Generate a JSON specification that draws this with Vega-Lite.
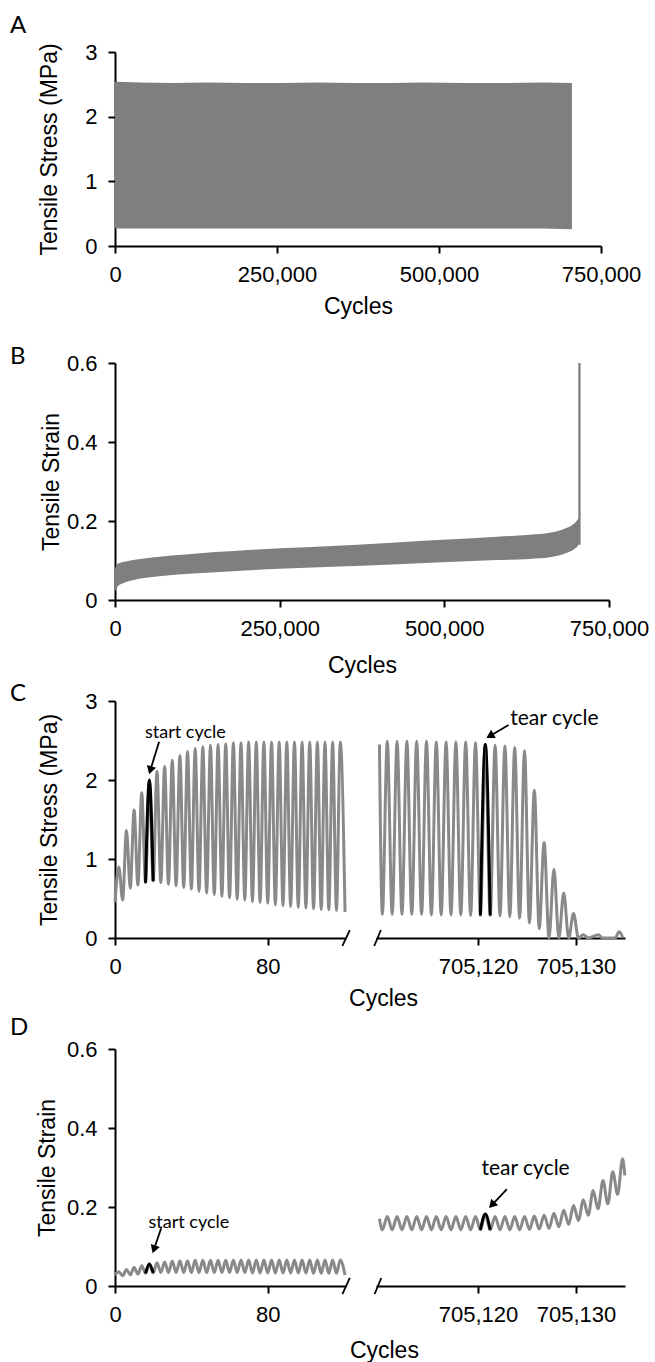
{
  "$schema": "https://vega.github.io/schema/vega-lite/v6.json",
  "background": "white",
  "padding": {"left": 10, "top": 14, "right": 5, "bottom": 0},
  "spacing": 5,
  "config": {
    "view": {"stroke": null},
    "font": "Liberation Sans",
    "axis": {
      "domainColor": "#000", "domainWidth": 2, "tickColor": "#000", "tickWidth": 2, "tickSize": 7,
      "labelFont": "Liberation Sans", "labelFontSize": 22, "labelColor": "#000", "labelPadding": 11,
      "titleFont": "Liberation Sans", "titleFontSize": 23, "titleFontWeight": "normal", "titleColor": "#000",
      "grid": false, "labelFlush": false, "labelOverlap": false
    },
    "title": {"font": "Lato", "fontSize": 24, "fontWeight": "normal", "color": "#000", "anchor": "start", "frame": "group"}
  },
  "datasets": {
    "a": [
      {"x": 0, "top": 2.54, "bot": 0.27}, {"x": 40000, "top": 2.53, "bot": 0.27}, {"x": 90000, "top": 2.52, "bot": 0.27},
      {"x": 140000, "top": 2.53, "bot": 0.27}, {"x": 200000, "top": 2.52, "bot": 0.27}, {"x": 260000, "top": 2.52, "bot": 0.27},
      {"x": 310000, "top": 2.53, "bot": 0.27}, {"x": 370000, "top": 2.52, "bot": 0.27}, {"x": 430000, "top": 2.52, "bot": 0.27},
      {"x": 470000, "top": 2.53, "bot": 0.27}, {"x": 540000, "top": 2.52, "bot": 0.27}, {"x": 600000, "top": 2.52, "bot": 0.27},
      {"x": 660000, "top": 2.53, "bot": 0.27}, {"x": 705135, "top": 2.52, "bot": 0.26}
    ],
    "b": [
      {"x": 0, "up": 0.080, "low": 0.021}, {"x": 4000, "up": 0.092, "low": 0.034}, {"x": 15000, "up": 0.097, "low": 0.044},
      {"x": 35000, "up": 0.103, "low": 0.053}, {"x": 60000, "up": 0.108, "low": 0.059}, {"x": 90000, "up": 0.113, "low": 0.064},
      {"x": 125000, "up": 0.118, "low": 0.068}, {"x": 180000, "up": 0.124, "low": 0.073}, {"x": 250000, "up": 0.131, "low": 0.079},
      {"x": 330000, "up": 0.137, "low": 0.084}, {"x": 420000, "up": 0.145, "low": 0.090}, {"x": 505000, "up": 0.153, "low": 0.096},
      {"x": 580000, "up": 0.160, "low": 0.101}, {"x": 630000, "up": 0.165, "low": 0.104}, {"x": 660000, "up": 0.170, "low": 0.108},
      {"x": 685000, "up": 0.182, "low": 0.119}, {"x": 698000, "up": 0.195, "low": 0.130}, {"x": 703000, "up": 0.205, "low": 0.138},
      {"x": 705100, "up": 0.212, "low": 0.145}
    ],
    "bs": [{"x": 705135, "y": 0.14, "y2": 0.6}],
    "cLg": [
      {"x": 0, "y": 0.45}, {"x": 2, "y": 0.9}, {"x": 4, "y": 0.48}, {"x": 6, "y": 1.36}, {"x": 8, "y": 0.63}, {"x": 10, "y": 1.62},
      {"x": 12, "y": 0.67}, {"x": 14, "y": 1.84}, {"x": 16, "y": 0.7}, {"x": 18, "y": 2.0}, {"x": 20, "y": 0.72}, {"x": 22, "y": 2.11},
      {"x": 24, "y": 0.7}, {"x": 26, "y": 2.17}, {"x": 28, "y": 0.68}, {"x": 30, "y": 2.25}, {"x": 32, "y": 0.66}, {"x": 34, "y": 2.31},
      {"x": 36, "y": 0.64}, {"x": 38, "y": 2.36}, {"x": 40, "y": 0.62}, {"x": 42, "y": 2.4}, {"x": 44, "y": 0.59}, {"x": 46, "y": 2.42},
      {"x": 48, "y": 0.57}, {"x": 50, "y": 2.44}, {"x": 52, "y": 0.55}, {"x": 54, "y": 2.45}, {"x": 56, "y": 0.53}, {"x": 58, "y": 2.46},
      {"x": 60, "y": 0.51}, {"x": 62, "y": 2.47}, {"x": 64, "y": 0.49}, {"x": 66, "y": 2.47}, {"x": 68, "y": 0.48}, {"x": 70, "y": 2.48},
      {"x": 72, "y": 0.46}, {"x": 74, "y": 2.48}, {"x": 76, "y": 0.45}, {"x": 78, "y": 2.48}, {"x": 80, "y": 0.44}, {"x": 82, "y": 2.48},
      {"x": 84, "y": 0.42}, {"x": 86, "y": 2.48}, {"x": 88, "y": 0.41}, {"x": 90, "y": 2.48}, {"x": 92, "y": 0.4}, {"x": 94, "y": 2.48},
      {"x": 96, "y": 0.39}, {"x": 98, "y": 2.48}, {"x": 100, "y": 0.38}, {"x": 102, "y": 2.48}, {"x": 104, "y": 0.37}, {"x": 106, "y": 2.48},
      {"x": 108, "y": 0.36}, {"x": 110, "y": 2.48}, {"x": 112, "y": 0.355}, {"x": 114, "y": 2.48}, {"x": 116, "y": 0.35}, {"x": 118, "y": 2.48},
      {"x": 120.5, "y": 0.33}
    ],
    "cLb": [{"x": 16, "y": 0.7}, {"x": 18, "y": 2.0}, {"x": 20, "y": 0.72}],
    "cLr": [{"x": 119.1, "y": -0.101, "x2": 123.0, "y2": 0.101}, {"x": 23.1, "y": 2.484, "x2": 18.5, "y2": 2.124}],
    "cLp": [{"x": 18.5, "y": 2.124}],
    "cLt": [{"x": 36.9, "y": 2.593, "label": "start cycle"}],
    "cRg": [
      {"x": 705109.95, "y": 2.45}, {"x": 705110.25, "y": 0.3},
      {"x": 705110.75, "y": 2.49}, {"x": 705111.25, "y": 0.3}, {"x": 705111.75, "y": 2.49}, {"x": 705112.25, "y": 0.3},
      {"x": 705112.75, "y": 2.49}, {"x": 705113.25, "y": 0.3}, {"x": 705113.75, "y": 2.49}, {"x": 705114.25, "y": 0.3},
      {"x": 705114.75, "y": 2.49}, {"x": 705115.25, "y": 0.29}, {"x": 705115.75, "y": 2.48}, {"x": 705116.25, "y": 0.29},
      {"x": 705116.75, "y": 2.48}, {"x": 705117.25, "y": 0.29}, {"x": 705117.75, "y": 2.48}, {"x": 705118.25, "y": 0.29},
      {"x": 705118.75, "y": 2.48}, {"x": 705119.25, "y": 0.285}, {"x": 705119.75, "y": 2.47}, {"x": 705120.25, "y": 0.285},
      {"x": 705120.75, "y": 2.45}, {"x": 705121.25, "y": 0.285}, {"x": 705121.75, "y": 2.44}, {"x": 705122.25, "y": 0.28},
      {"x": 705122.75, "y": 2.43}, {"x": 705123.25, "y": 0.27}, {"x": 705123.75, "y": 2.41}, {"x": 705124.25, "y": 0.25},
      {"x": 705124.75, "y": 2.37}, {"x": 705125.25, "y": 0.19}, {"x": 705125.75, "y": 1.87}, {"x": 705126.25, "y": 0.12},
      {"x": 705126.75, "y": 1.21}, {"x": 705127.25, "y": 0.0}, {"x": 705127.75, "y": 0.87}, {"x": 705128.25, "y": 0.0},
      {"x": 705128.75, "y": 0.57}, {"x": 705129.25, "y": 0.0}, {"x": 705129.75, "y": 0.31}, {"x": 705130.25, "y": 0.0},
      {"x": 705130.75, "y": 0.04}, {"x": 705131.25, "y": 0.0}, {"x": 705132.3, "y": 0.04}, {"x": 705132.7, "y": 0.0},
      {"x": 705134.0, "y": 0.0}, {"x": 705134.4, "y": 0.08}, {"x": 705134.8, "y": 0.0}
    ],
    "cRb": [{"x": 705120.25, "y": 0.285}, {"x": 705120.75, "y": 2.45}, {"x": 705121.25, "y": 0.285}],
    "cRr": [{"x": 705109.42, "y": -0.101, "x2": 705110.1, "y2": 0.101}, {"x": 705123.12, "y": 2.696, "x2": 705121.22, "y2": 2.558}],
    "cRp": [{"x": 705121.22, "y": 2.558}],
    "cRt": [{"x": 705127.8, "y": 2.767, "label": "tear cycle"}],
    "dLg": [
      {"x": 0, "y": 0.028}, {"x": 2, "y": 0.036}, {"x": 4, "y": 0.026}, {"x": 6, "y": 0.042}, {"x": 8, "y": 0.028}, {"x": 10, "y": 0.047},
      {"x": 12, "y": 0.03}, {"x": 14, "y": 0.051}, {"x": 16, "y": 0.032}, {"x": 18, "y": 0.056}, {"x": 20, "y": 0.033}, {"x": 22, "y": 0.059},
      {"x": 24, "y": 0.034}, {"x": 26, "y": 0.061}, {"x": 28, "y": 0.034}, {"x": 30, "y": 0.063}, {"x": 32, "y": 0.034}, {"x": 34, "y": 0.064},
      {"x": 36, "y": 0.034}, {"x": 38, "y": 0.064}, {"x": 40, "y": 0.034}, {"x": 42, "y": 0.065}, {"x": 44, "y": 0.034}, {"x": 46, "y": 0.065},
      {"x": 48, "y": 0.034}, {"x": 50, "y": 0.065}, {"x": 52, "y": 0.034}, {"x": 54, "y": 0.065}, {"x": 56, "y": 0.034}, {"x": 58, "y": 0.065},
      {"x": 60, "y": 0.034}, {"x": 62, "y": 0.066}, {"x": 64, "y": 0.034}, {"x": 66, "y": 0.066}, {"x": 68, "y": 0.034}, {"x": 70, "y": 0.066},
      {"x": 72, "y": 0.033}, {"x": 74, "y": 0.066}, {"x": 76, "y": 0.033}, {"x": 78, "y": 0.066}, {"x": 80, "y": 0.033}, {"x": 82, "y": 0.066},
      {"x": 84, "y": 0.033}, {"x": 86, "y": 0.066}, {"x": 88, "y": 0.033}, {"x": 90, "y": 0.066}, {"x": 92, "y": 0.033}, {"x": 94, "y": 0.066},
      {"x": 96, "y": 0.033}, {"x": 98, "y": 0.066}, {"x": 100, "y": 0.033}, {"x": 102, "y": 0.066}, {"x": 104, "y": 0.032}, {"x": 106, "y": 0.066},
      {"x": 108, "y": 0.032}, {"x": 110, "y": 0.066}, {"x": 112, "y": 0.032}, {"x": 114, "y": 0.066}, {"x": 116, "y": 0.032}, {"x": 118, "y": 0.066},
      {"x": 120.5, "y": 0.028}
    ],
    "dLb": [{"x": 16, "y": 0.032}, {"x": 18, "y": 0.056}, {"x": 20, "y": 0.033}],
    "dLr": [{"x": 119.1, "y": -0.0203, "x2": 123.0, "y2": 0.0203}, {"x": 24.2, "y": 0.146, "x2": 20.4, "y2": 0.0928}],
    "dLp": [{"x": 20.4, "y": 0.0928}],
    "dLt": [{"x": 38.7, "y": 0.159, "label": "start cycle"}],
    "dRg": [
      {"x": 705109.95, "y": 0.17}, {"x": 705110.25, "y": 0.142},
      {"x": 705110.75, "y": 0.176}, {"x": 705111.25, "y": 0.142}, {"x": 705111.75, "y": 0.176}, {"x": 705112.25, "y": 0.142},
      {"x": 705112.75, "y": 0.176}, {"x": 705113.25, "y": 0.142}, {"x": 705113.75, "y": 0.176}, {"x": 705114.25, "y": 0.142},
      {"x": 705114.75, "y": 0.176}, {"x": 705115.25, "y": 0.142}, {"x": 705115.75, "y": 0.176}, {"x": 705116.25, "y": 0.142},
      {"x": 705116.75, "y": 0.176}, {"x": 705117.25, "y": 0.142}, {"x": 705117.75, "y": 0.176}, {"x": 705118.25, "y": 0.142},
      {"x": 705118.75, "y": 0.176}, {"x": 705119.25, "y": 0.142}, {"x": 705119.75, "y": 0.176}, {"x": 705120.25, "y": 0.142},
      {"x": 705120.75, "y": 0.182}, {"x": 705121.25, "y": 0.142}, {"x": 705121.75, "y": 0.176}, {"x": 705122.25, "y": 0.142},
      {"x": 705122.75, "y": 0.176}, {"x": 705123.25, "y": 0.142}, {"x": 705123.75, "y": 0.176}, {"x": 705124.25, "y": 0.142},
      {"x": 705124.75, "y": 0.176}, {"x": 705125.25, "y": 0.143}, {"x": 705125.75, "y": 0.177}, {"x": 705126.25, "y": 0.144},
      {"x": 705126.75, "y": 0.179}, {"x": 705127.25, "y": 0.146}, {"x": 705127.75, "y": 0.184}, {"x": 705128.25, "y": 0.15},
      {"x": 705128.75, "y": 0.192}, {"x": 705129.25, "y": 0.156}, {"x": 705129.75, "y": 0.204}, {"x": 705130.25, "y": 0.166},
      {"x": 705130.75, "y": 0.218}, {"x": 705131.25, "y": 0.179}, {"x": 705131.75, "y": 0.242}, {"x": 705132.25, "y": 0.195},
      {"x": 705132.75, "y": 0.267}, {"x": 705133.25, "y": 0.208}, {"x": 705133.75, "y": 0.289}, {"x": 705134.25, "y": 0.232},
      {"x": 705134.75, "y": 0.322}, {"x": 705134.98, "y": 0.28}
    ],
    "dRb": [{"x": 705120.25, "y": 0.142}, {"x": 705120.75, "y": 0.182}, {"x": 705121.25, "y": 0.142}],
    "dRr": [{"x": 705109.46, "y": -0.0203, "x2": 705110.14, "y2": 0.0203}, {"x": 705122.95, "y": 0.245, "x2": 705121.42, "y2": 0.2048}],
    "dRp": [{"x": 705121.42, "y": 0.2048}],
    "dRt": [{"x": 705124.86, "y": 0.296, "label": "tear cycle"}]
  },
  "vconcat": [
    {
      "title": {"text": "A", "dx": -105, "offset": 3},
      "width": 486, "height": 194,
      "data": {"name": "a"},
      "mark": {"type": "area", "color": "#7f7f7f"},
      "encoding": {
        "x": {"field": "x", "type": "quantitative", "scale": {"domain": [0, 750000], "nice": false},
              "axis": {"values": [0, 250000, 500000, 750000], "format": ",.0f", "title": ["Cycles", ""], "titleLineHeight": 22, "titlePadding": 10}},
        "y": {"field": "top", "type": "quantitative", "scale": {"domain": [0, 3], "nice": false},
              "axis": {"values": [0, 1, 2, 3], "title": "Tensile Stress (MPa)", "titlePadding": 23}},
        "y2": {"field": "bot"}
      }
    },
    {
      "title": {"text": "B", "dx": -105, "offset": -17},
      "width": 494, "height": 237,
      "layer": [
        {
          "data": {"name": "b"},
          "mark": {"type": "area", "color": "#7f7f7f", "interpolate": "monotone"},
          "encoding": {
            "x": {"field": "x", "type": "quantitative", "scale": {"domain": [0, 750000], "nice": false},
                  "axis": {"values": [0, 250000, 500000, 750000], "format": ",.0f", "title": "Cycles", "titlePadding": 15}},
            "y": {"field": "up", "type": "quantitative", "scale": {"domain": [0, 0.6], "nice": false},
                  "axis": {"values": [0, 0.2, 0.4, 0.6], "format": "~g", "title": "Tensile Strain", "titlePadding": 3}},
            "y2": {"field": "low"}
          }
        },
        {
          "data": {"name": "bs"},
          "mark": {"type": "rule", "color": "#7f7f7f", "strokeWidth": 2.3},
          "encoding": {
            "x": {"field": "x", "type": "quantitative"},
            "y": {"field": "y", "type": "quantitative"},
            "y2": {"field": "y2"}
          }
        }
      ]
    },
    {
      "title": {"text": "Cycles", "orient": "bottom", "anchor": "middle", "frame": "bounds", "font": "Liberation Sans", "fontSize": 23, "offset": 10.5, "dx": 64},
      "bounds": "flush",
      "spacing": 30,
      "hconcat": [
        {
          "title": {"text": "C", "dx": -105, "offset": -16},
          "width": 231, "height": 237,
          "encoding": {
            "x": {"field": "x", "type": "quantitative", "scale": {"domain": [0, 121], "nice": false, "zero": false},
                  "axis": {"values": [0, 80], "title": null}},
            "y": {"field": "y", "type": "quantitative", "scale": {"domain": [0, 3], "nice": false},
                  "axis": {"values": [0, 1, 2, 3], "title": "Tensile Stress (MPa)", "titlePadding": 23}}
          },
          "layer": [
            {"data": {"name": "cLg"}, "mark": {"type": "line", "color": "#898989", "strokeWidth": 3, "interpolate": "monotone"}},
            {"data": {"name": "cLb"}, "mark": {"type": "line", "color": "#000", "strokeWidth": 3, "interpolate": "monotone"}},
            {"data": {"name": "cLr"}, "mark": {"type": "rule", "color": "#000", "strokeWidth": 1.8},
             "encoding": {"x2": {"field": "x2"}, "y2": {"field": "y2"}}},
            {"data": {"name": "cLp"}, "mark": {"type": "point", "shape": "triangle-up", "filled": true, "color": "#000", "opacity": 1, "size": 90, "angle": 197}},
            {"data": {"name": "cLt"}, "mark": {"type": "text", "font": "Lato", "fontSize": 18, "color": "#000", "align": "center", "baseline": "middle"},
             "encoding": {"text": {"field": "label"}}}
          ]
        },
        {
          "width": 249, "height": 237,
          "encoding": {
            "x": {"field": "x", "type": "quantitative", "scale": {"domain": [705109.6, 705135], "nice": false, "zero": false},
                  "axis": {"values": [705120, 705130], "format": ",.0f", "title": null}},
            "y": {"field": "y", "type": "quantitative", "scale": {"domain": [0, 3], "nice": false}, "axis": null}
          },
          "layer": [
            {"data": {"name": "cRg"}, "mark": {"type": "line", "color": "#898989", "strokeWidth": 3, "interpolate": "monotone"}},
            {"data": {"name": "cRb"}, "mark": {"type": "line", "color": "#000", "strokeWidth": 3, "interpolate": "monotone"}},
            {"data": {"name": "cRr"}, "mark": {"type": "rule", "color": "#000", "strokeWidth": 1.8},
             "encoding": {"x2": {"field": "x2"}, "y2": {"field": "y2"}}},
            {"data": {"name": "cRp"}, "mark": {"type": "point", "shape": "triangle-up", "filled": true, "color": "#000", "opacity": 1, "size": 90, "angle": 240}},
            {"data": {"name": "cRt"}, "mark": {"type": "text", "font": "Lato", "fontSize": 21, "color": "#000", "align": "center", "baseline": "middle"},
             "encoding": {"text": {"field": "label"}}}
          ]
        }
      ]
    },
    {
      "title": {"text": "Cycles", "orient": "bottom", "anchor": "middle", "frame": "bounds", "font": "Liberation Sans", "fontSize": 23, "offset": 15, "dx": 64},
      "bounds": "flush",
      "spacing": 30,
      "hconcat": [
        {
          "title": {"text": "D", "dx": -105, "offset": -2},
          "width": 231, "height": 237,
          "encoding": {
            "x": {"field": "x", "type": "quantitative", "scale": {"domain": [0, 121], "nice": false, "zero": false},
                  "axis": {"values": [0, 80], "title": null}},
            "y": {"field": "y", "type": "quantitative", "scale": {"domain": [0, 0.6], "nice": false},
                  "axis": {"values": [0, 0.2, 0.4, 0.6], "format": "~g", "title": "Tensile Strain", "titlePadding": 7}}
          },
          "layer": [
            {"data": {"name": "dLg"}, "mark": {"type": "line", "color": "#898989", "strokeWidth": 3, "interpolate": "monotone"}},
            {"data": {"name": "dLb"}, "mark": {"type": "line", "color": "#000", "strokeWidth": 3, "interpolate": "monotone"}},
            {"data": {"name": "dLr"}, "mark": {"type": "rule", "color": "#000", "strokeWidth": 1.8},
             "encoding": {"x2": {"field": "x2"}, "y2": {"field": "y2"}}},
            {"data": {"name": "dLp"}, "mark": {"type": "point", "shape": "triangle-up", "filled": true, "color": "#000", "opacity": 1, "size": 90, "angle": 199}},
            {"data": {"name": "dLt"}, "mark": {"type": "text", "font": "Lato", "fontSize": 18, "color": "#000", "align": "center", "baseline": "middle"},
             "encoding": {"text": {"field": "label"}}}
          ]
        },
        {
          "width": 249, "height": 237,
          "encoding": {
            "x": {"field": "x", "type": "quantitative", "scale": {"domain": [705109.6, 705135], "nice": false, "zero": false},
                  "axis": {"values": [705120, 705130], "format": ",.0f", "title": null}},
            "y": {"field": "y", "type": "quantitative", "scale": {"domain": [0, 0.6], "nice": false}, "axis": null}
          },
          "layer": [
            {"data": {"name": "dRg"}, "mark": {"type": "line", "color": "#898989", "strokeWidth": 3, "interpolate": "monotone"}},
            {"data": {"name": "dRb"}, "mark": {"type": "line", "color": "#000", "strokeWidth": 3, "interpolate": "monotone"}},
            {"data": {"name": "dRr"}, "mark": {"type": "rule", "color": "#000", "strokeWidth": 1.8},
             "encoding": {"x2": {"field": "x2"}, "y2": {"field": "y2"}}},
            {"data": {"name": "dRp"}, "mark": {"type": "point", "shape": "triangle-up", "filled": true, "color": "#000", "opacity": 1, "size": 90, "angle": 223}},
            {"data": {"name": "dRt"}, "mark": {"type": "text", "font": "Lato", "fontSize": 21, "color": "#000", "align": "center", "baseline": "middle"},
             "encoding": {"text": {"field": "label"}}}
          ]
        }
      ]
    }
  ]
}
